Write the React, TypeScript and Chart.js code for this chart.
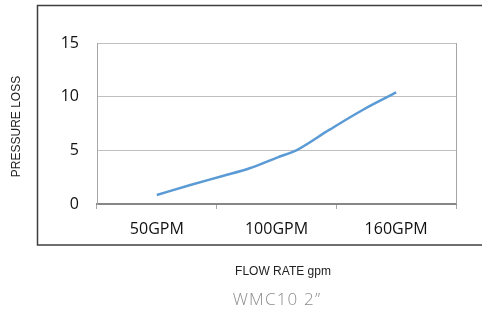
import React, { useEffect, useRef } from "react";
import { Chart, registerables } from "chart.js";

Chart.register(...registerables);

// ---- data ----
const categories = ["50GPM", "100GPM", "160GPM"];
// position of each measured point along the category axis (0 = 50GPM, 1 = 100GPM, 2 = 160GPM)
const flowPosition = [0, 0.28, 0.55, 0.775, 1.01, 1.17, 1.44, 1.72, 2.0];
const pressureLoss = [0.84, 1.77, 2.61, 3.33, 4.35, 5.03, 6.9, 8.76, 10.39];
const yMin = 0;
const yMax = 15;
const yStep = 5;
const yTitle = "PRESSURE LOSS";
const xTitle = "FLOW RATE gpm";
const chartTitle = "WMC10 2\u201D";

export default function App() {
  const ref = useRef<HTMLCanvasElement>(null);

  useEffect(() => {
    document.body.style.margin = "0";
    const canvas = ref.current;
    if (!canvas) return;

    const deco = {
      id: "deco",
      beforeDraw(chart: any) {
        const c = chart.ctx;
        c.save();
        c.fillStyle = "#ffffff";
        c.fillRect(0, 0, chart.width, chart.height);
        c.strokeStyle = "#3f3f3f";
        c.lineWidth = 1.5;
        c.strokeRect(37.5, 5.5, 470, 239.5);
        c.restore();
      },
      beforeDatasetsDraw(chart: any) {
        const a = chart.chartArea;
        const c = chart.ctx;
        c.save();
        c.strokeStyle = "#a6a6a6";
        c.lineWidth = 1;
        c.beginPath();
        c.moveTo(Math.round(a.right) + 0.5, a.top);
        c.lineTo(Math.round(a.right) + 0.5, a.bottom);
        c.stroke();
        c.restore();
      },
      afterDraw(chart: any) {
        const c = chart.ctx;
        c.save();
        c.fillStyle = "#222222";
        c.textAlign = "center";
        c.textBaseline = "middle";
        c.font = "12px 'Liberation Sans', Arial, sans-serif";
        c.save();
        c.translate(17, 126.5);
        c.rotate(-Math.PI / 2);
        c.fillText(yTitle, 0, 0);
        c.restore();
        c.fillText(xTitle, 283, 272);
        c.fillStyle = "#8c8c8c";
        c.font = "300 17px 'Open Sans', sans-serif";
        (c as any).letterSpacing = "1.2px";
        c.fillText(chartTitle, 277, 300);
        c.restore();
      },
    };

    const chart = new Chart(canvas, {
      type: "line",
      data: {
        labels: categories,
        datasets: [
          {
            data: flowPosition.map((x, i) => ({ x, y: pressureLoss[i] })),
            xAxisID: "x2",
            yAxisID: "y",
            borderColor: "#5b9bd5",
            borderWidth: 2.5,
            pointRadius: 0,
            cubicInterpolationMode: "monotone",
            fill: false,
          },
        ],
      },
      options: {
        responsive: false,
        animation: false,
        devicePixelRatio: 1,
        layout: { padding: { left: 57, top: 43, right: 26, bottom: 73 } },
        plugins: {
          legend: { display: false },
          tooltip: { enabled: false },
          title: { display: false },
        },
        scales: {
          x: {
            type: "category",
            offset: true,
            grid: {
              offset: true,
              drawOnChartArea: false,
              drawTicks: true,
              tickLength: 5,
              color: "#a6a6a6",
            },
            border: { color: "#868686", width: 2 },
            ticks: {
              color: "#111111",
              font: { family: "'Open Sans'", size: 16 },
              padding: 11,
              maxRotation: 0,
            },
            afterFit(s: any) {
              s.height = 40;
            },
          },
          x2: {
            type: "linear",
            display: false,
            min: -0.5,
            max: 2.5,
          },
          y: {
            min: yMin,
            max: yMax,
            ticks: {
              stepSize: yStep,
              color: "#111111",
              font: { family: "'Open Sans'", size: 16 },
              padding: 18,
            },
            grid: { color: "#c0c0c0", drawTicks: false, tickLength: 0 },
            border: { color: "#a6a6a6", width: 1 },
            afterFit(s: any) {
              s.width = 40;
            },
          },
        },
      },
      plugins: [deco],
    } as any);

    return () => chart.destroy();
  }, []);

  return (
    <div style={{ position: "fixed", left: 0, top: 0, width: 482, height: 317 }}>
      <canvas ref={ref} width={482} height={317} style={{ width: 482, height: 317, display: "block" }} />
    </div>
  );
}
